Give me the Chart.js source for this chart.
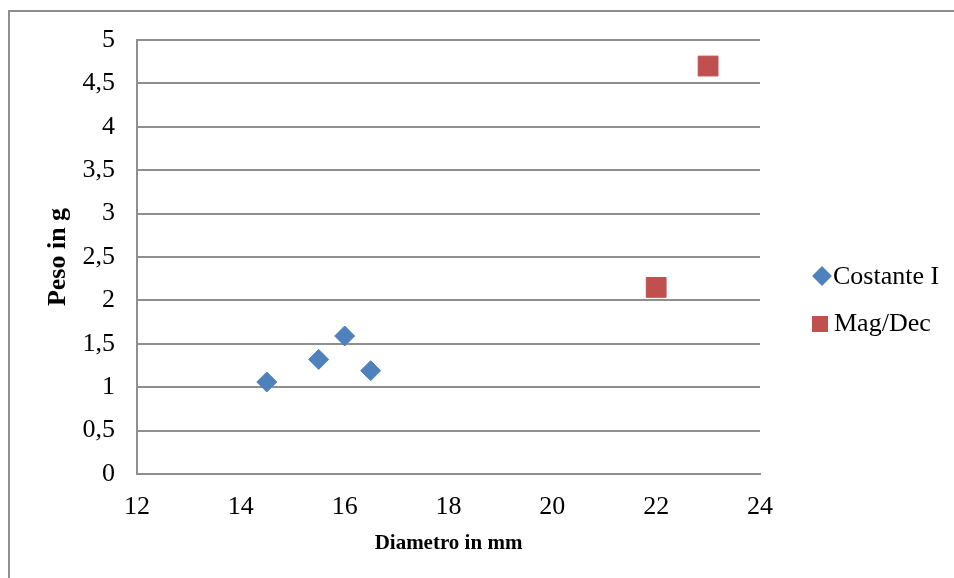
<!DOCTYPE html>
<html>
<head>
<meta charset="utf-8">
<script src="https://cdn.jsdelivr.net/npm/chart.js@4"></script>
<style>
    body { margin: 0; background: #fff; overflow: hidden; }
    #wrap { position: relative; width: 954px; height: 578px; overflow: hidden; }
    #frame { position: absolute; left: 8px; top: 10px; width: 1000px; height: 700px; border: 2px solid #8f8f8f; }
    canvas { position: absolute; left: 0; top: 0; }
    .leg { position: absolute; font-family: "Liberation Serif", "Times New Roman", serif; font-size: 26px; color: #000; line-height: 1; white-space: nowrap; }
    .mk { position: absolute; }
</style>
</head>
<body>
<div id="wrap">
    <div id="frame"></div>
    <canvas id="chart" width="954" height="578"></canvas>
    <div id="legend"></div>
</div>
<script>
const seriesNames = ["Costante I", "Mag/Dec"];
const diametroCostante = [14.5, 15.5, 16, 16.5];
const pesoCostante = [1.06, 1.32, 1.59, 1.19];
const diametroMagDec = [22, 23];
const pesoMagDec = [2.15, 4.7];
const seriesColors = ["#4f81bd", "#c0504d"];

const serif = "'Liberation Serif', 'Times New Roman', serif";
const gridColor = "#8f8f8f";

function pairs(xs, ys) {
    return xs.map((x, i) => ({ x: x, y: ys[i] }));
}

const chart = new Chart(document.getElementById("chart"), {
    type: "scatter",
    data: {
        datasets: [{
            label: seriesNames[0],
            data: pairs(diametroCostante, pesoCostante),
            pointStyle: "rectRot",
            pointRadius: 10,
            pointHoverRadius: 10,
            backgroundColor: seriesColors[0],
            borderColor: seriesColors[0],
            borderWidth: 1
        }, {
            label: seriesNames[1],
            data: pairs(diametroMagDec, pesoMagDec),
            pointStyle: "rect",
            pointRadius: 14,
            pointHoverRadius: 14,
            backgroundColor: seriesColors[1],
            borderColor: seriesColors[1],
            borderWidth: 1
        }]
    },
    options: {
        responsive: false,
        animation: false,
        layout: { padding: { top: 40, right: 194, bottom: 0, left: 0 } },
        plugins: { legend: { display: false }, tooltip: { enabled: false } },
        scales: {
            x: {
                type: "linear",
                min: 12, max: 24,
                afterFit: s => { s.height = 104; },
                grid: { display: false, drawTicks: false },
                border: { display: true, color: gridColor, width: 2 },
                ticks: { stepSize: 2, padding: 18, color: "#000", font: { family: serif, size: 26 } },
                title: {
                    display: true, text: "Diametro in mm", color: "#000",
                    font: { family: serif, size: 21, weight: "bold", lineHeight: 1 },
                    padding: { top: 0, bottom: 24 }
                }
            },
            y: {
                min: 0, max: 5,
                afterFit: s => { s.width = 137; },
                grid: { color: gridColor, lineWidth: 2, drawTicks: false },
                border: { display: true, color: gridColor, width: 2 },
                ticks: {
                    stepSize: 0.5, padding: 22, color: "#000",
                    font: { family: serif, size: 26 },
                    callback: v => String(v).replace(".", ",")
                },
                title: {
                    display: true, text: "Peso in g", color: "#000",
                    font: { family: serif, size: 26, weight: "bold", lineHeight: 1 },
                    padding: { top: 45, bottom: 0 }
                }
            }
        }
    }
});

// legend drawn as html next to the plot
const legend = document.getElementById("legend");
const legendRows = [
    { mark: "left:815px;top:269px;width:14px;height:14px;transform:rotate(45deg);", text: "left:833px;top:263px;" },
    { mark: "left:812px;top:316px;width:16px;height:16px;", text: "left:834px;top:310px;" }
];
legendRows.forEach((row, i) => {
    const m = document.createElement("div");
    m.className = "mk";
    m.style.cssText = row.mark + "background:" + seriesColors[i] + ";";
    legend.appendChild(m);
    const t = document.createElement("div");
    t.className = "leg";
    t.style.cssText = row.text;
    t.textContent = seriesNames[i];
    legend.appendChild(t);
});
</script>
</body>
</html>
